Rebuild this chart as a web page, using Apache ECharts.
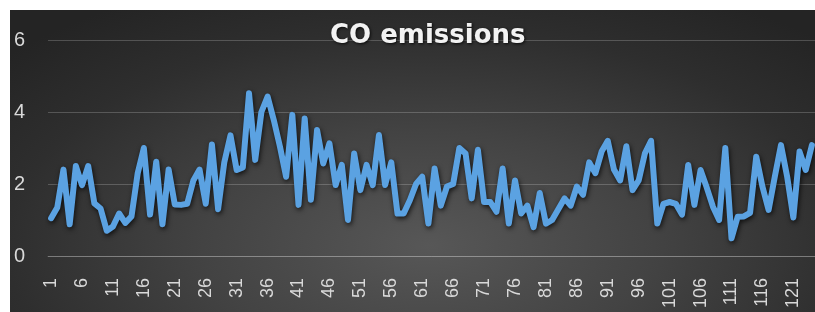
<!DOCTYPE html>
<html>
<head>
<meta charset="utf-8">
<script src="https://cdn.jsdelivr.net/npm/echarts@6/dist/echarts.min.js"></script>
<style>
  html, body { margin: 0; padding: 0; background: #ffffff; width: 815px; height: 312px; overflow: hidden; }
  #wrap { position: absolute; left: 10px; top: 10px; width: 805px; height: 302px;
    background: radial-gradient(ellipse 70% 95% at 52% 78%, #575757 0%, #434343 40%, #2e2e2e 75%, #242424 100%); }
  #chart { width: 805px; height: 302px; }
</style>
</head>
<body>
<div id="wrap"><div id="chart"></div></div>
<script>
const titleText = 'CO emissions';
const categories = [];
for (let i = 1; i <= 124; i++) categories.push(String(i));
const coValues = [
  1.05, 1.35, 2.4, 0.88, 2.5, 1.97, 2.5, 1.46, 1.32, 0.7,
  0.82, 1.18, 0.92, 1.1, 2.3, 3.0, 1.15, 2.62, 0.88, 2.4,
  1.43, 1.42, 1.45, 2.1, 2.4, 1.45, 3.1, 1.3, 2.6, 3.35,
  2.39, 2.46, 4.52, 2.67, 4.0, 4.43, 3.78, 3.04, 2.2, 3.92,
  1.42, 3.82, 1.56, 3.5, 2.57, 3.13, 1.97, 2.53, 1.0, 2.85,
  1.83, 2.53, 1.97, 3.36, 1.97, 2.6, 1.18, 1.18, 1.55, 2.0,
  2.2, 0.9, 2.43, 1.4, 1.93, 2.0, 3.0, 2.85, 1.6, 2.95,
  1.5, 1.5, 1.23, 2.43, 0.9, 2.1, 1.18, 1.4, 0.8, 1.75,
  0.9, 1.0, 1.3, 1.6, 1.4, 1.93, 1.7, 2.6, 2.3, 2.9,
  3.2, 2.4, 2.1, 3.05, 1.83, 2.1, 2.85, 3.2, 0.9, 1.45,
  1.5, 1.45, 1.15, 2.53, 1.42, 2.39, 1.9, 1.37, 1.0, 3.0,
  0.49, 1.09, 1.1, 1.2, 2.76, 1.93, 1.28, 2.2, 3.08, 2.2,
  1.07, 2.9, 2.39, 3.08
];
const yMin = 0, yMax = 6, yStep = 2;

const chart = echarts.init(document.getElementById('chart'), null, { renderer: 'canvas' });
chart.setOption({
  animation: false,
  backgroundColor: 'transparent',
  title: {
    text: titleText,
    left: 320,
    top: 13,
    padding: 0,
    textStyle: {
      color: '#f2f2f2',
      fontFamily: 'DejaVu Sans',
      fontWeight: 'bold',
      fontSize: 26,
      textShadowColor: 'rgba(0,0,0,0.8)',
      textShadowBlur: 3,
      textShadowOffsetX: 1,
      textShadowOffsetY: 1
    }
  },
  grid: { left: 38, right: -2, top: 30, bottom: 56, containLabel: false },
  xAxis: {
    type: 'category',
    data: categories,
    boundaryGap: true,
    axisLine: { show: true, lineStyle: { color: 'rgba(255,255,255,0.2)', width: 1 } },
    axisTick: { show: false },
    axisLabel: {
      interval: 4,
      rotate: 90,
      margin: 22,
      color: '#d9d9d9',
      fontFamily: 'Liberation Sans',
      fontSize: 18
    },
    splitLine: { show: false }
  },
  yAxis: {
    type: 'value',
    min: yMin, max: yMax, interval: yStep,
    axisLine: { show: false },
    axisTick: { show: false },
    axisLabel: {
      margin: 23,
      color: '#d9d9d9',
      fontFamily: 'Liberation Sans',
      fontSize: 20
    },
    splitLine: { show: true, lineStyle: { color: 'rgba(255,255,255,0.2)', width: 1 } }
  },
  series: [{
    type: 'line',
    data: coValues,
    symbol: 'none',
    smooth: false,
    lineStyle: {
      color: '#5ba2e2',
      width: 6,
      join: 'round',
      cap: 'round',
      shadowColor: 'rgba(0,0,0,0.75)',
      shadowBlur: 5,
      shadowOffsetX: 1,
      shadowOffsetY: 2
    }
  }]
});
</script>
</body>
</html>
